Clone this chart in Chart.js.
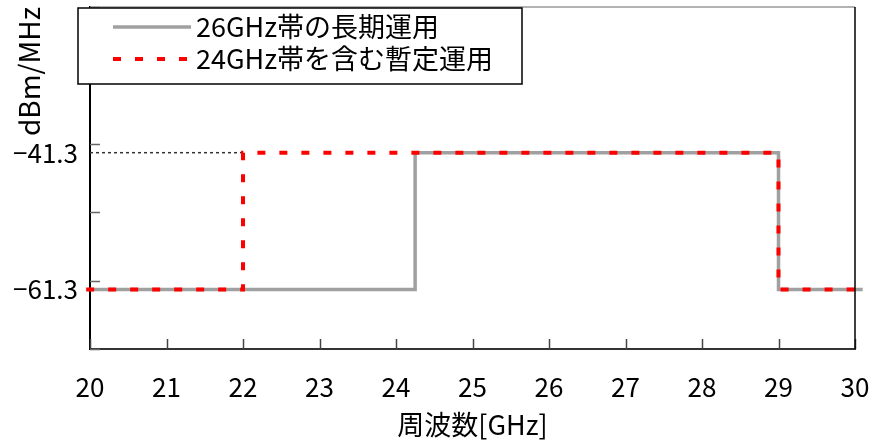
<!DOCTYPE html>
<html>
<head>
<meta charset="utf-8">
<script src="https://cdn.jsdelivr.net/npm/chart.js@4.4.0/dist/chart.umd.min.js"></script>
<style>
  body { margin: 0; background: #fff; }
</style>
</head>
<body>
<canvas id="chart" width="873" height="441"></canvas>
<script>
// 26GHz帯の長期運用 (gray solid)
const longX = [20, 24.25, 24.25, 29, 29, 30.1];
const longY = [-61.3, -61.3, -41.3, -41.3, -61.3, -61.3];
// 24GHz帯を含む暫定運用 (red dashed)
const tempX = [19.95, 22, 22, 29, 29, 30.1];
const tempY = [-61.3, -61.3, -41.3, -41.3, -61.3, -61.3];
// dotted guide at -41.3
const guideX = [20, 22];
const guideY = [-41.3, -41.3];

const xTicks = [20, 21, 22, 23, 24, 25, 26, 27, 28, 29, 30];
const yTickMarks = [-70, -60, -50, -40, -30, -20];
const yLabelValues = [-61.3, -41.3];

const labelLong = "26GHz帯の長期運用";
const labelTemp = "24GHz帯を含む暫定運用";

const FONT = "'Noto Sans CJK JP', 'Noto Sans', sans-serif";

function pts(xs, ys) {
    return xs.map((x, i) => ({ x: x, y: ys[i] }));
}

// inward tick marks + top/right frame
const framePlugin = {
    id: "frame",
    afterDatasetsDraw(chart) {
        const ctx = chart.ctx;
        const a = chart.chartArea;
        const xs = chart.scales.x;
        const ys = chart.scales.y;
        ctx.save();
        ctx.lineWidth = 1.5;
        ctx.strokeStyle = "#666";
        yTickMarks.forEach(v => {
            let y = Math.round(ys.getPixelForValue(v)) + 0.5;
            ctx.beginPath();
            ctx.moveTo(a.left, y);
            ctx.lineTo(a.left + 10, y);
            ctx.stroke();
        });
        ctx.strokeStyle = "#444";
        xTicks.forEach(v => {
            let x = Math.round(xs.getPixelForValue(v)) + 0.5;
            ctx.beginPath();
            ctx.moveTo(x, a.bottom);
            ctx.lineTo(x, a.bottom - 10);
            ctx.stroke();
        });
        ctx.strokeStyle = "#999";
        ctx.beginPath();
        ctx.moveTo(a.left, a.top);
        ctx.lineTo(a.right, a.top);
        ctx.stroke();
        ctx.strokeStyle = "#000";
        ctx.beginPath();
        ctx.moveTo(a.right, a.top);
        ctx.lineTo(a.right, a.bottom);
        ctx.stroke();
        ctx.restore();
    }
};

// boxed legend that overlaps the y axis
const legendBox = {
    id: "legendBox",
    afterDraw(chart) {
        const ctx = chart.ctx;
        const bx = 78, by = 8, bw = 444, bh = 76;
        ctx.save();
        ctx.fillStyle = "#fff";
        ctx.fillRect(bx, by, bw, bh);
        ctx.strokeStyle = "#000";
        ctx.lineWidth = 1.5;
        ctx.strokeRect(bx, by, bw, bh);
        const items = chart.data.datasets.filter(d => d.inLegend).sort((p, q) => p.legendPos - q.legendPos);
        items.forEach((d, i) => {
            let y = 27 + i * 32;
            ctx.beginPath();
            ctx.strokeStyle = d.borderColor;
            ctx.lineWidth = d.borderWidth;
            ctx.setLineDash(d.borderDash || []);
            ctx.moveTo(113, y);
            ctx.lineTo(191, y);
            ctx.stroke();
            ctx.setLineDash([]);
            ctx.fillStyle = "#000";
            ctx.font = "27px " + FONT;
            ctx.textBaseline = "middle";
            ctx.fillText(d.label, 196, y);
        });
        ctx.restore();
    }
};

new Chart(document.getElementById("chart"), {
    type: "line",
    data: {
        datasets: [
            {
                label: labelTemp,
                data: pts(tempX, tempY),
                borderColor: "#ff0000",
                borderWidth: 4,
                borderDash: [8, 14],
                pointRadius: 0,
                order: 0,
                inLegend: true,
                legendPos: 1
            },
            {
                label: "guide",
                data: pts(guideX, guideY),
                borderColor: "#333",
                borderWidth: 1.5,
                borderDash: [3, 3],
                pointRadius: 0,
                order: 1
            },
            {
                label: labelLong,
                data: pts(longX, longY),
                borderColor: "#a0a0a0",
                borderWidth: 3.5,
                pointRadius: 0,
                order: 2,
                inLegend: true,
                legendPos: 0
            }
        ]
    },
    options: {
        responsive: false,
        animation: false,
        clip: false,
        layout: { padding: { top: 7, right: 18, left: 0, bottom: 0 } },
        plugins: {
            legend: { display: false },
            tooltip: { enabled: false }
        },
        scales: {
            x: {
                type: "linear",
                min: 20,
                max: 30,
                afterFit: s => { s.height = 92; s.paddingLeft = 0; s.paddingRight = 0; },
                afterBuildTicks: s => { s.ticks = xTicks.map(v => ({ value: v })); },
                grid: { display: false, drawTicks: false },
                border: { color: "#333", width: 2 },
                ticks: {
                    padding: 23,
                    color: "#000",
                    font: { family: FONT, size: 26 }
                },
                title: {
                    display: true,
                    text: "周波数[GHz]",
                    color: "#000",
                    font: { family: FONT, size: 27 },
                    padding: { top: 0, bottom: 0 }
                }
            },
            y: {
                type: "linear",
                min: -70,
                max: -20,
                afterFit: s => { s.width = 90; s.paddingTop = 0; s.paddingBottom = 0; },
                afterBuildTicks: s => { s.ticks = yLabelValues.map(v => ({ value: v })); },
                grid: { display: false, drawTicks: false },
                border: { color: "#000", width: 2 },
                ticks: {
                    padding: 12,
                    color: "#000",
                    font: { family: FONT, size: 26 },
                    callback: v => "−" + Math.abs(v).toFixed(1)
                },
                title: {
                    display: true,
                    text: "dBm/MHz",
                    align: "end",
                    color: "#000",
                    font: { family: FONT, size: 28 },
                    padding: { top: 13, bottom: 0 }
                }
            }
        }
    },
    plugins: [framePlugin, legendBox]
});
</script>
</body>
</html>
